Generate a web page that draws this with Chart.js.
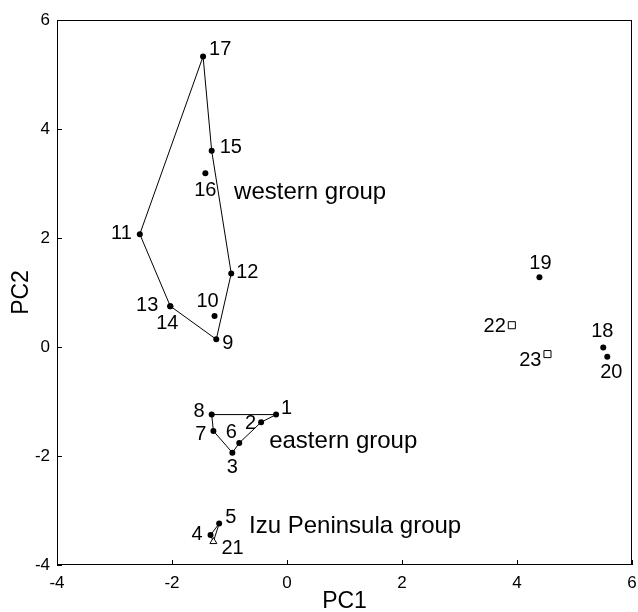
<!DOCTYPE html>
<html>
<head>
<meta charset="utf-8">
<script src="https://cdn.jsdelivr.net/npm/chart.js@4/dist/chart.umd.min.js"></script>
<style>
  html, body { margin: 0; padding: 0; background: #fff; }
  #wrap { width: 638px; height: 612px; }
</style>
</head>
<body>
<div id="wrap"><canvas id="c"></canvas></div>
<script>
// sample numbers and their PC scores
const sampleIds = [1, 2, 3, 4, 5, 6, 7, 8, 9, 10, 11, 12, 13, 14, 15, 16, 17, 18, 19, 20, 21, 22, 23]
const pc1 = [-0.19, -0.45, -0.95, -1.33, -1.18, -0.83, -1.28, -1.31, -1.23, -1.26, -2.56, -0.97, -2.03, -2.03, -1.31, -1.42, -1.46, 5.50, 4.39, 5.57, -1.28, 3.91, 4.53]
const pc2 = [-1.24, -1.38, -1.94, -3.45, -3.24, -1.76, -1.54, -1.24, 0.14, 0.57, 2.07, 1.35, 0.75, 0.75, 3.60, 3.19, 5.33, -0.01, 1.28, -0.18, -3.57, 0.40, -0.13]

// marker kinds
const squareIds = [22, 23]
const triangleIds = [21]

// outlines of the groups (sample numbers, in drawing order)
const westernHull = [17, 15, 12, 9, 13, 11, 17]
const easternHull = [8, 1, 2, 6, 3, 7, 8]
const izuHull = [5, 4, 21, 5]

const groupNames = ['western group', 'eastern group', 'Izu Peninsula group']
const groupPc1 = [-0.92, -0.31, -0.66]
const groupPc2 = [2.84, -1.74, -3.30]

const xTicks = [-4, -2, 0, 2, 4, 6]
const yTicks = [-4, -2, 0, 2, 4, 6]

// label placement next to each point: [dx, dy, align]
const labelPos = {
  1: [5, -6, 'left'], 2: [-5, 1, 'right'], 3: [0, 15, 'center'], 4: [-8, -1, 'right'],
  5: [6, -6, 'left'], 6: [-8, -10, 'center'], 7: [-7, 4, 'right'], 8: [-7, -3, 'right'],
  9: [6, 4, 'left'], 10: [-7, -14, 'center'], 11: [-8, -1, 'right'], 12: [5, -1, 'left'],
  13: [-12, -1, 'right'], 14: [-3, 17, 'center'], 15: [8, -3, 'left'], 16: [0, 17, 'center'],
  17: [6, -7, 'left'], 18: [-1, -16, 'center'], 19: [1, -14, 'center'], 20: [4, 16, 'center'],
  21: [8, 7, 'left'], 22: [-6, 1, 'right'], 23: [-6, 6, 'right'],
}

const FONT = '"Liberation Sans", Arial, Helvetica, sans-serif'

function pt(id) {
  const i = sampleIds.indexOf(id)
  return { x: pc1[i], y: pc2[i] }
}

const circles = sampleIds.filter((id) => !squareIds.includes(id) && !triangleIds.includes(id))

function lineSet(ids) {
  return {
    type: 'scatter',
    showLine: true,
    data: ids.map(pt),
    borderColor: '#000',
    borderWidth: 1,
    pointRadius: 0,
    fill: false,
    tension: 0,
    order: 2,
  }
}

const frame = {
  id: 'frame',
  afterDatasetsDraw(chart) {
    const { ctx, chartArea: a, scales } = chart
    ctx.save()
    ctx.strokeStyle = '#000'
    ctx.lineWidth = 1
    ctx.strokeRect(a.left + 0.5, a.top + 0.5, a.right - a.left - 1, a.bottom - a.top - 1)
    ctx.beginPath()
    xTicks.forEach((v) => {
      const x = Math.round(scales.x.getPixelForValue(v)) + 0.5
      ctx.moveTo(x, a.bottom)
      ctx.lineTo(x, a.bottom - 5)
    })
    yTicks.forEach((v) => {
      const y = Math.round(scales.y.getPixelForValue(v)) + 0.5
      ctx.moveTo(a.left, y)
      ctx.lineTo(a.left + 5, y)
    })
    ctx.stroke()

    ctx.fillStyle = '#000'
    ctx.textBaseline = 'middle'
    ctx.font = '20px ' + FONT
    sampleIds.forEach((id, i) => {
      const [dx, dy, align] = labelPos[id]
      ctx.textAlign = align
      ctx.fillText(String(id), scales.x.getPixelForValue(pc1[i]) + dx, scales.y.getPixelForValue(pc2[i]) + dy)
    })
    ctx.font = '24px ' + FONT
    ctx.textAlign = 'left'
    groupNames.forEach((name, i) => {
      ctx.fillText(name, scales.x.getPixelForValue(groupPc1[i]), scales.y.getPixelForValue(groupPc2[i]))
    })
    ctx.restore()
  },
}

new Chart(document.getElementById('c'), {
  type: 'scatter',
  data: {
    datasets: [
      {
        data: circles.map(pt),
        pointStyle: 'circle',
        pointRadius: 3,
        backgroundColor: '#000',
        borderColor: '#000',
        borderWidth: 0,
        order: 1,
      },
      {
        data: squareIds.map(pt),
        pointStyle: 'rect',
        pointRadius: 5,
        backgroundColor: '#fff',
        borderColor: '#000',
        borderWidth: 1,
        order: 1,
      },
      {
        data: triangleIds.map(pt),
        pointStyle: 'triangle',
        pointRadius: 4,
        backgroundColor: '#fff',
        borderColor: '#000',
        borderWidth: 1,
        order: 1,
      },
      lineSet(westernHull),
      lineSet(easternHull),
      lineSet(izuHull),
    ],
  },
  options: {
    responsive: true,
    maintainAspectRatio: false,
    animation: false,
    layout: { padding: { left: 8, top: 20, right: 4, bottom: 0 } },
    plugins: { legend: { display: false }, tooltip: { enabled: false } },
    scales: {
      x: {
        type: 'linear',
        min: -4,
        max: 6,
        afterBuildTicks: (s) => { s.ticks = xTicks.map((v) => ({ value: v })) },
        afterFit: (s) => { s.height = 47; s.paddingRight = 0 },
        ticks: { color: '#000', padding: 8, font: { family: FONT, size: 17 } },
        grid: { display: false, drawTicks: false },
        border: { display: false },
        title: {
          display: true, text: 'PC1', color: '#000',
          padding: { top: 4, bottom: -3 },
          font: { family: FONT, size: 23 },
        },
      },
      y: {
        type: 'linear',
        min: -4,
        max: 6,
        afterBuildTicks: (s) => { s.ticks = yTicks.map((v) => ({ value: v })) },
        afterFit: (s) => { s.width = 49 },
        ticks: { color: '#000', padding: 7, font: { family: FONT, size: 17 } },
        grid: { display: false, drawTicks: false },
        border: { display: false },
        title: {
          display: true, text: 'PC2', color: '#000',
          padding: { top: 0, bottom: 4 },
          font: { family: FONT, size: 23 },
        },
      },
    },
  },
  plugins: [frame],
})
</script>
</body>
</html>
